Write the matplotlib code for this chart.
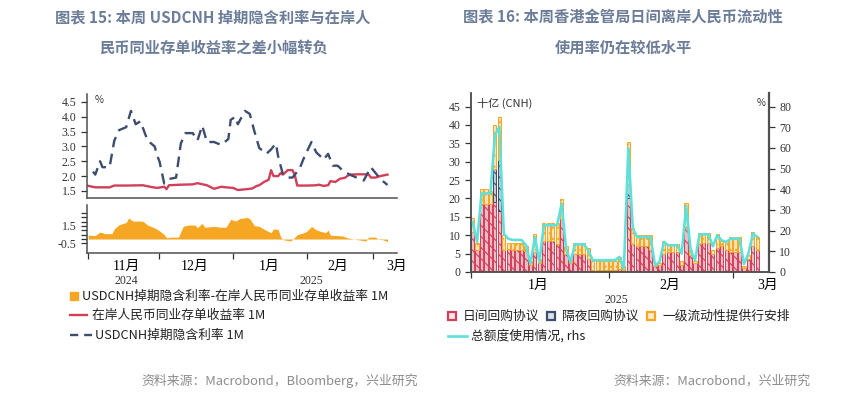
import matplotlib.pyplot as plt
from matplotlib.lines import Line2D
from matplotlib.patches import Rectangle
import numpy as np
import pandas as pd

plt.rcParams['font.family'] = ['Noto Sans CJK SC', 'DejaVu Sans']
plt.rcParams['hatch.linewidth'] = 0.8

# ---------------- left chart data ----------------
# USDCNH 掉期隐含利率 1M
swap_dates = ['2024-11-03', '2024-11-04', '2024-11-06', '2024-11-07', '2024-11-10', '2024-11-12',
              '2024-11-14', '2024-11-17', '2024-11-19', '2024-11-21', '2024-11-23', '2024-11-26',
              '2024-11-29', '2024-11-30', '2024-12-01', '2024-12-03', '2024-12-05', '2024-12-08',
              '2024-12-10', '2024-12-12', '2024-12-15', '2024-12-17', '2024-12-19', '2024-12-21',
              '2024-12-24', '2024-12-27', '2024-12-30', '2024-12-31', '2025-01-02', '2025-01-03',
              '2025-01-06', '2025-01-08', '2025-01-10', '2025-01-12', '2025-01-15', '2025-01-17',
              '2025-01-19', '2025-01-20', '2025-01-22', '2025-01-24', '2025-01-26', '2025-01-29',
              '2025-01-31', '2025-02-03', '2025-02-05', '2025-02-07', '2025-02-08', '2025-02-10',
              '2025-02-12', '2025-02-14', '2025-02-16', '2025-02-19', '2025-02-22', '2025-02-25',
              '2025-02-28', '2025-03-02', '2025-03-04', '2025-03-07']
swap_vals = [2.15, 2.05, 2.5, 2.3, 2.3, 3.2, 3.55, 3.65, 4.2, 3.75, 3.85, 3.2,
             3.0, 2.7, 2.5, 1.75, 1.9, 1.95, 3.1, 3.45, 3.45, 3.2, 3.7, 3.15,
             3.15, 3.05, 3.25, 3.9, 4.0, 3.75, 4.2, 4.1, 3.5, 2.95, 2.75, 2.9,
             3.1, 2.65, 2.05, 1.95, 1.95, 2.25, 2.65, 3.15, 2.8, 2.65, 2.55, 2.75,
             2.35, 2.35, 2.2, 2.05, 1.95, 1.85, 2.3, 2.1, 1.9, 1.7]

# 在岸人民币同业存单收益率 1M
ncd_dates = ['2024-11-01', '2024-11-04', '2024-11-10', '2024-11-12', '2024-11-17', '2024-11-24',
             '2024-11-27', '2024-11-30', '2024-12-03', '2024-12-04', '2024-12-05', '2024-12-10',
             '2024-12-15', '2024-12-17', '2024-12-21', '2024-12-24', '2024-12-27', '2024-12-29',
             '2025-01-01', '2025-01-03', '2025-01-07', '2025-01-09', '2025-01-11', '2025-01-12',
             '2025-01-14', '2025-01-16', '2025-01-17', '2025-01-18', '2025-01-20', '2025-01-21',
             '2025-01-22', '2025-01-24', '2025-01-26', '2025-01-27', '2025-01-28', '2025-02-01',
             '2025-02-05', '2025-02-06', '2025-02-08', '2025-02-10', '2025-02-11', '2025-02-13',
             '2025-02-15', '2025-02-17', '2025-02-19', '2025-02-23', '2025-02-27', '2025-02-28',
             '2025-03-02', '2025-03-04', '2025-03-07']
ncd_vals = [1.67, 1.62, 1.62, 1.68, 1.68, 1.69, 1.64, 1.6, 1.64, 1.56, 1.69, 1.71,
            1.72, 1.76, 1.69, 1.57, 1.64, 1.62, 1.6, 1.53, 1.56, 1.58, 1.67, 1.69,
            1.8, 1.88, 2.2, 2.0, 2.0, 2.1, 2.05, 2.2, 2.2, 2.03, 1.68, 1.68,
            1.69, 1.71, 1.67, 1.69, 1.83, 1.8, 1.91, 1.94, 2.05, 2.06, 2.06, 1.95,
            1.95, 2.0, 2.05]

# 掉期隐含利率 - 同业存单收益率
spread_dates = ['2024-11-01', '2024-11-04', '2024-11-06', '2024-11-08', '2024-11-11', '2024-11-12',
                '2024-11-14', '2024-11-17', '2024-11-18', '2024-11-20', '2024-11-22', '2024-11-24',
                '2024-11-26', '2024-11-29', '2024-12-01', '2024-12-03', '2024-12-04', '2024-12-06',
                '2024-12-09', '2024-12-11', '2024-12-13', '2024-12-16', '2024-12-17', '2024-12-19',
                '2024-12-20', '2024-12-24', '2024-12-27', '2024-12-29', '2024-12-31', '2025-01-02',
                '2025-01-04', '2025-01-07', '2025-01-08', '2025-01-10', '2025-01-12', '2025-01-15',
                '2025-01-17', '2025-01-18', '2025-01-20', '2025-01-21', '2025-01-22', '2025-01-25',
                '2025-01-26', '2025-01-28', '2025-01-30', '2025-02-01', '2025-02-03', '2025-02-05',
                '2025-02-07', '2025-02-09', '2025-02-10', '2025-02-11', '2025-02-16', '2025-02-18',
                '2025-02-21', '2025-02-23', '2025-02-26', '2025-02-27', '2025-03-02', '2025-03-03',
                '2025-03-05', '2025-03-07']
spread_vals = [0.45, 0.4, 0.8, 0.62, 0.62, 1.16, 1.64, 1.9, 2.4, 2.04, 2.07, 2.04,
               1.6, 1.27, 0.95, 0.5, 0.15, 0.22, 0.22, 1.45, 1.6, 1.6, 1.3, 1.8,
               1.35, 1.45, 1.35, 1.35, 2.25, 2.07, 2.36, 2.47, 2.33, 1.53, 1.45, 0.98,
               0.73, 1.16, 1.09, 0.25, -0.07, -0.22, -0.07, 0.5, 0.65, 0.87, 1.45, 1.05,
               0.87, 0.73, 1.02, 0.44, 0.36, 0.15, 0.0, -0.1, -0.22, 0.22, 0.22, -0.04,
               -0.07, -0.3]

# ---------------- right chart data ----------------
bar_dates = pd.date_range('2025-01-01', '2025-03-06', freq='D')
intraday_repo = [11, 6, 18.5, 18.5, 18.5, 19, 16.5, 6, 6.3, 6,
                 6, 6, 5.8, 2, 5.5, 2.5, 8.5, 8.5, 8.3, 7.7,
                 14.5, 5, 2.5, 5, 5, 5, 3.5, 0.5, 0.5, 0.5,
                 0.5, 0.5, 0.5, 0.8, 0.5, 20, 7.5, 7, 7, 7,
                 6, 1.5, 2, 5, 5.5, 5.5, 5.5, 2, 12, 4.5,
                 2.5, 7.5, 8, 8, 5, 6.5, 7, 6, 5.5, 5.5,
                 5.5, 1.2, 3.5, 7, 6]
overnight_repo = [0, 0, 0, 0, 0, 9, 14, 0, 0, 0,
                  0, 0, 0, 0, 0, 0, 0, 0, 0, 0,
                  0, 0, 0, 0, 0, 0, 0, 0, 0, 0,
                  0, 0, 0, 0, 0, 4, 0, 0, 0, 0,
                  0, 0, 0, 0, 0, 0, 0, 0, 0, 0,
                  0, 0, 0, 0, 0, 0, 0, 0, 0, 0,
                  0, 0, 0, 0, 0]
plp = [3.8, 2, 4, 4, 3.5, 12, 11.8, 4, 1.7, 2,
       2, 2, 1.2, 1, 4.8, 1, 4.8, 4.8, 5, 5.6,
       5.3, 2, 1, 2.8, 2.8, 2.8, 3, 2.5, 2.5, 2.5,
       2.5, 2.5, 2.5, 3.2, 1, 11.5, 4.5, 3, 3, 3,
       4, 0.5, 0.5, 3.5, 2, 2, 2, 1, 6.8, 1.5,
       0.5, 3, 2.5, 2.5, 1, 3.8, 1.5, 2.5, 4, 4,
       4, 0.3, 1, 4, 3.5]
usage_pct = [24.2, 14.5, 38, 38, 38, 66.3, 70.3, 18.5, 16.1, 15.5,
             15.5, 15.5, 12.9, 4.0, 16.9, 4.8, 22.6, 22.6, 22.6, 22.6,
             33.0, 11.3, 4.8, 13.4, 13.4, 13.4, 10.5, 5.7, 5.7, 5.7,
             5.7, 5.7, 5.7, 7.3, 1.6, 59.8, 21.0, 16.9, 16.9, 16.9,
             16.9, 3.2, 4.8, 14.5, 12.9, 12.9, 12.9, 8.9, 31.8, 10.5,
             5.7, 18.2, 18.2, 18.2, 12.5, 17.7, 15.3, 14.5, 16.1, 16.1,
             16.1, 3.8, 8.9, 18.6, 16.9]

RED = '#d23f5a'
NAVY = '#3d4d6e'
ORANGE = '#f5a623'
TEAL = '#5fe0d8'
TITLE_C = '#6b7d98'
SPINE_C = '#505050'
SERIF = ['Liberation Serif', 'Noto Sans CJK SC']

W, H = 854, 396
fig = plt.figure(figsize=(W / 100, H / 100), dpi=100)


def box(x0, y0, x1, y1):
    return [x0 / W, 1 - y1 / H, (x1 - x0) / W, (y1 - y0) / H]


def fx(x):
    return x / W


def fy(y):
    return 1 - y / H


def ts(strings):
    return pd.to_datetime(strings, format='mixed')


def style_axes(ax):
    for s in ax.spines.values():
        s.set_color(SPINE_C)
        s.set_linewidth(1.1)
    ax.tick_params(colors='#333333', labelsize=8.5, width=0.9, length=4, direction='out')
    for lab in ax.get_yticklabels() + ax.get_xticklabels(which='both'):
        lab.set_family(SERIF)


# ================= left chart =================
axA = fig.add_axes(box(87, 94, 397, 198))
axB = fig.add_axes(box(87, 205, 397, 253), sharex=axA)

axA.plot(ts(ncd_dates), ncd_vals, color=RED, lw=1.7)
axA.plot(ts(swap_dates), swap_vals, color=NAVY, lw=1.7, dashes=(4.5, 2.8))
axA.set_ylim(1.26, 4.77)
axA.set_yticks(np.arange(1.5, 4.51, 0.5))
axA.set_yticklabels(['%.1f' % v for v in np.arange(1.5, 4.51, 0.5)])
axA.spines[['top', 'right']].set_visible(False)
axA.text(0.026, 0.94, '%', transform=axA.transAxes, fontsize=7, color='#333333', va='center')

axB.fill_between(ts(spread_dates), 0, spread_vals, color=ORANGE, lw=0)
axB.set_ylim(-1.6, 3.9)
bt = np.arange(-0.5, 3.01, 0.5)
axB.set_yticks(bt)
axB.set_yticklabels(['%.1f' % v if round(v, 1) in (1.5, -0.5) else '' for v in bt])
axB.spines[['top', 'right']].set_visible(False)

axB.set_xlim(pd.Timestamp('2024-10-31 12:00'), pd.Timestamp('2025-03-11'))
axB.set_xticks(ts(['2024-11-01', '2024-12-01', '2025-01-01', '2025-02-01', '2025-03-01']))
axB.set_xticklabels([])
axB.set_xticks(ts(['2024-11-17', '2024-12-16', '2025-01-16', '2025-02-14', '2025-03-10 18:00']),
               minor=True)
axB.set_xticklabels(['11月', '12月', '1月', '2月', '3月'], minor=True)
style_axes(axA)
style_axes(axB)
axA.tick_params(axis='x', which='both', length=0, labelbottom=False)
axB.tick_params(axis='x', which='minor', length=0, pad=5)
for d, yr in [('2024-11-17', '2024'), ('2025-02-03', '2025')]:
    axB.annotate(yr, xy=(pd.Timestamp(d), 0), xycoords=('data', 'axes fraction'),
                 xytext=(0, -28), textcoords='offset pixels', ha='center', va='center',
                 fontsize=8.5, family=SERIF, color='#333333')

# ================= right chart =================
axC = fig.add_axes(box(471, 93, 769, 272))
axC.bar(bar_dates, intraday_repo, width=0.72, align='edge', facecolor='#f0bcc6',
        edgecolor=RED, linewidth=0.7, hatch='\\\\\\')
axC.bar(bar_dates, overnight_repo, width=0.72, align='edge', bottom=intraday_repo,
        facecolor='#c3c9d6', edgecolor=NAVY, linewidth=0.7, hatch='\\\\\\')
axC.bar(bar_dates, plp, width=0.72, align='edge',
        bottom=np.add(intraday_repo, overnight_repo),
        facecolor='#fde3b6', edgecolor=ORANGE, linewidth=0.7, hatch='...')
axC.set_ylim(0, 48.7)
axC.set_yticks(np.arange(0, 46, 5))
axC.spines['top'].set_visible(False)
axC.set_xlim(pd.Timestamp('2025-01-01'), pd.Timestamp('2025-03-09'))
axC.set_xticks(ts(['2025-01-01', '2025-02-01', '2025-03-01']))
axC.set_xticklabels([])
axC.set_xticks(ts(['2025-01-16', '2025-02-14 16:00', '2025-03-08 16:00']), minor=True)
axC.set_xticklabels(['1月', '2月', '3月'], minor=True)
axC.text(0.02, 0.944, '十亿 (CNH)', transform=axC.transAxes, fontsize=8, color='#333333', va='center')

axD = axC.twinx()
axD.plot(bar_dates + pd.Timedelta(hours=9), usage_pct, color=TEAL, lw=1.9)
axD.set_ylim(0, 48.7 * 80 / 45)
axD.set_yticks(np.arange(0, 81, 10))
axD.spines['top'].set_visible(False)
axD.text(0.96, 0.944, '%', transform=axD.transAxes, fontsize=7, color='#333333', va='center')
style_axes(axC)
style_axes(axD)
axD.spines['right'].set_linewidth(1.6)
axC.tick_params(axis='x', which='minor', length=0, pad=5)
axC.annotate('2025', xy=(pd.Timestamp('2025-02-02 19:00'), 0), xycoords=('data', 'axes fraction'),
             xytext=(0, -28), textcoords='offset pixels', ha='center', va='center',
             fontsize=8.5, family=SERIF, color='#333333')

# ================= titles / sources =================
fig.text(fx(213), fy(17), '图表 15: 本周 USDCNH 掉期隐含利率与在岸人', ha='center', va='center',
         fontsize=11, weight='bold', color=TITLE_C)
fig.text(fx(213), fy(48), '民币同业存单收益率之差小幅转负', ha='center', va='center',
         fontsize=11, weight='bold', color=TITLE_C)
fig.text(fx(623), fy(17), '图表 16: 本周香港金管局日间离岸人民币流动性', ha='center', va='center',
         fontsize=11, weight='bold', color=TITLE_C)
fig.text(fx(623), fy(48), '使用率仍在较低水平', ha='center', va='center',
         fontsize=11, weight='bold', color=TITLE_C)
fig.text(fx(418), fy(381), '资料来源：Macrobond，Bloomberg，兴业研究', ha='right', va='center',
         fontsize=9.3, color='#8c8c8c')
fig.text(fx(810), fy(381), '资料来源：Macrobond，兴业研究', ha='right', va='center',
         fontsize=9.3, color='#8c8c8c')

# ================= legends =================
LEG = dict(va='center', fontsize=9.2, color='#222222')
fig.add_artist(Rectangle((fx(70), fy(300)), 8 / W, 8 / H, transform=fig.transFigure, color=ORANGE))
fig.text(fx(82), fy(296), 'USDCNH掉期隐含利率-在岸人民币同业存单收益率 1M', **LEG)
fig.add_artist(Line2D([fx(70), fx(87)], [fy(315)] * 2, transform=fig.transFigure, color=RED, lw=1.7))
fig.text(fx(92), fy(315), '在岸人民币同业存单收益率 1M', **LEG)
fig.add_artist(Line2D([fx(70), fx(92)], [fy(335)] * 2, transform=fig.transFigure, color=NAVY,
                      lw=1.7, dashes=(3.5, 2.5)))
fig.text(fx(95), fy(335), 'USDCNH掉期隐含利率 1M', **LEG)

for x0, fc, ec, label in [(448, '#fbe5e9', RED, '日间回购协议'),
                          (547, '#dde1ea', NAVY, '隔夜回购协议'),
                          (647, '#fdebcf', ORANGE, '一级流动性提供行安排')]:
    fig.add_artist(Rectangle((fx(x0), fy(320)), 8 / W, 8 / H, transform=fig.transFigure,
                             facecolor=fc, edgecolor=ec, lw=1.6))
    fig.text(fx(x0 + 15), fy(316), label, **LEG)
fig.add_artist(Line2D([fx(448), fx(467)], [fy(336)] * 2, transform=fig.transFigure, color=TEAL, lw=1.9))
fig.text(fx(471), fy(336), '总额度使用情况, rhs', **LEG)

fig.savefig('out.png', dpi=100)
